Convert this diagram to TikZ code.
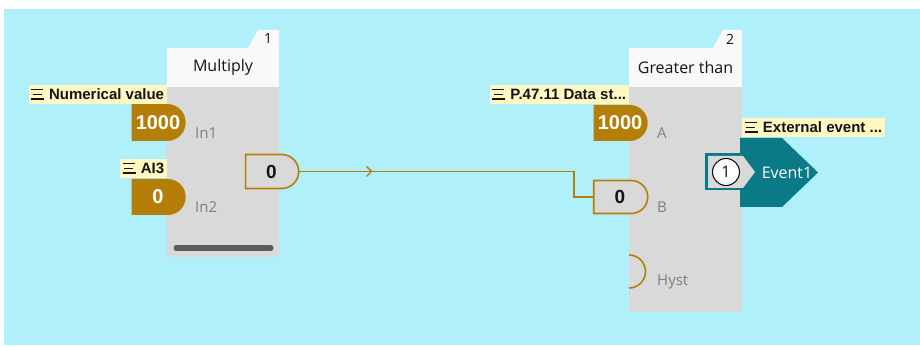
\documentclass[tikz,border=0pt]{standalone}
\usepackage{fontspec}
\setmainfont{Open Sans}
\newfontfamily\notefont{Liberation Sans}
\usetikzlibrary{arrows.meta,shapes.misc,decorations.markings}
\definecolor{canvas}{HTML}{AFF0FA}
\definecolor{blockgray}{HTML}{D9D9D9}
\definecolor{headwhite}{HTML}{F9F9F9}
\definecolor{gold}{HTML}{B57F07}
\definecolor{notepaper}{HTML}{FFF8C2}
\definecolor{ink}{HTML}{141414}
\definecolor{pingray}{HTML}{7F7F7F}
\definecolor{evteal}{HTML}{0A7B86}
\definecolor{barshade}{HTML}{5C5C5C}
\newcommand{\noteicon}{\raisebox{-0.5pt}{\vbox{\hrule width 12pt height 1.5pt\vskip 3.4pt\hbox{\kern1.5pt\vrule width 9pt height 1.5pt depth 0pt}\vskip 3.4pt\hrule width 13pt height 1.5pt}}\hspace{5pt}}

\begin{document}
\begin{tikzpicture}[x=1pt,y=-1pt,
body/.style={fill=blockgray,inner sep=0pt},head/.style={fill=headwhite,inner sep=0pt,text=ink,font=\fontsize{16}{18}\selectfont},tabnum/.style={text=ink,inner sep=0pt,font=\fontsize{14}{16}\selectfont},
pinfull/.style={rounded rectangle,rounded rectangle west arc=none,fill=gold,text=white,inner sep=0pt,minimum width=54pt,minimum height=36pt,font=\notefont\bfseries\fontsize{20}{22}\selectfont},pinopen/.style={pinfull,fill=blockgray,draw=gold,line width=1.6pt,text=ink,font=\notefont\bfseries\fontsize{19}{21}\selectfont},
pinname/.style={anchor=west,text=pingray,inner sep=0pt,font=\fontsize{15}{17}\selectfont},note/.style={fill=notepaper,text=ink,inner sep=2.5pt,minimum height=19pt,font=\notefont\bfseries\fontsize{15}{17}\selectfont},
wire/.style={draw=gold,line width=1.3pt},evname/.style={text=white,inner sep=0pt,font=\fontsize{16}{18}\selectfont},evnum/.style={circle,fill=white,draw=ink,line width=1.1pt,minimum size=27pt,inner sep=0pt,text=ink,font=\fontsize{16}{18}\selectfont}]
\useasboundingbox (0,0) rectangle (920,347);
\fill[white] (0,0) rectangle (920,347);
\fill[canvas] (4,9) rectangle (920,345);
\node[body,minimum width=112pt,minimum height=170pt] (multbody) at (223,172) {};
\fill[headwhite] (248,48) -- (258,30) -- (279,30) -- (279,48) -- cycle;
\node[head,minimum width=112pt,minimum height=39pt] (multhead) at (223,67.5) {Multiply};
\node[tabnum] (multnum) at (268,39) {1};
\draw[barshade,line width=5pt,line cap=round] (176,248) -- (271,248);
\node[pinfull,minimum height=37pt] (in1) at (158,122.5) {1000};
\node[pinfull] (in2) at (158,197) {0};
\node[pinopen,minimum width=53pt,minimum height=34pt] (out1) at (271.5,171.5) {0};
\node[pinname] (in1name) at (195,133) {In1};
\node[pinname] (in2name) at (195,207) {In2};
\node[note,anchor=south east] (note1) at (multbody.west |- 0,104) {\noteicon Numerical value};
\node[note,anchor=south east] (note2) at (multbody.west |- 0,178) {\noteicon AI3};
\node[body,minimum width=113pt,minimum height=225pt] (gtbody) at (685.5,199.5) {};
\fill[headwhite] (713,48) -- (723,30) -- (742,30) -- (742,48) -- cycle;
\node[head,minimum width=113pt,minimum height=39pt] (gthead) at (685.5,67.5) {Greater than};
\node[tabnum] (gtnum) at (730,39) {2};
\node[pinfull] (inA) at (620,123) {1000};
\node[pinopen,minimum height=33pt] (inB) at (620,197) {0};
\draw[gold,line width=1.6pt] (629,255) arc[start angle=-90,end angle=90,radius=16.5];
\node[pinname] (aname) at (657,133) {A};
\node[pinname] (bname) at (657,207) {B};
\node[pinname] (hystname) at (657,282) {Hyst};
\node[note,anchor=south east] (note3) at (gtbody.west |- 0,104) {\noteicon P.47.11 Data st...};
\fill[evteal] (740,138) -- (782,138) -- (818,172.5) -- (782,207) -- (740,207) -- cycle;
\fill[evteal] (705,153) rectangle (740,190);
\fill[blockgray] (708,156) -- (743,156) -- (755,172) -- (743,188) -- (708,188) -- cycle;
\node[evnum] (evnum1) at (726,172) {1};
\node[evname] (ev1) at (787,173) {Event1};
\node[note,anchor=south west] (note4) at (gtbody.east |- 0,137) {\noteicon External event ...};
\draw[wire,postaction={decorate,decoration={markings,mark=at position 73pt with {\arrow{Straight Barb[length=5pt,width=10pt]}}}}] (out1.east) -| ([xshift=-19pt]inB.west) -- (inB.west);
\end{tikzpicture}
\end{document}
